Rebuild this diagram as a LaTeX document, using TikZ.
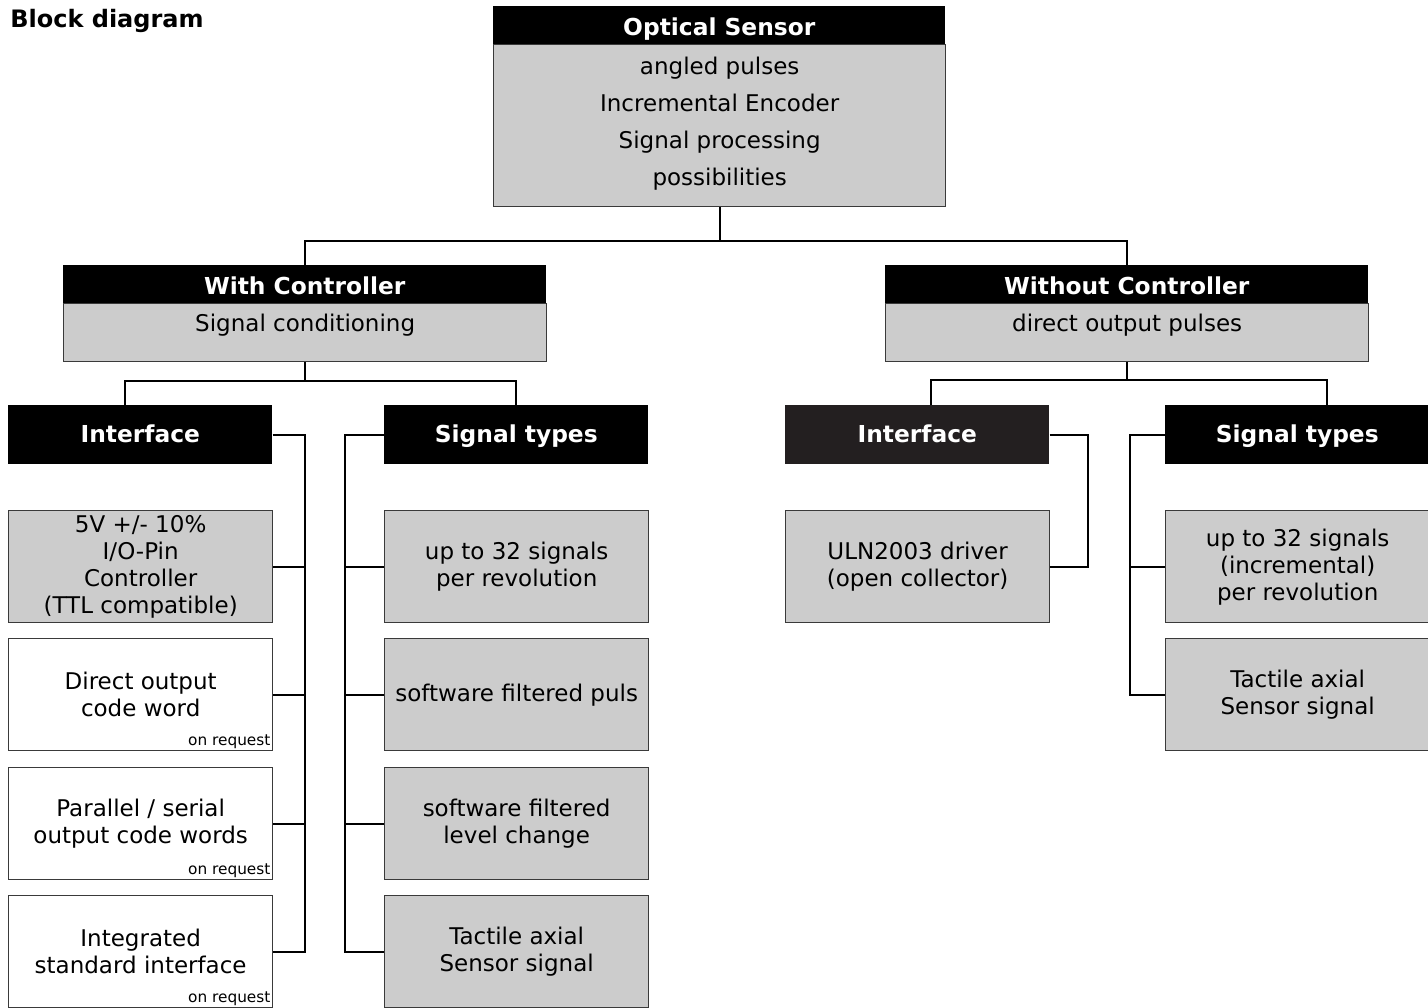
\documentclass[tikz,border=0pt]{standalone}
\usepackage{fontspec}
\setmainfont{DejaVu Sans}
\usetikzlibrary{positioning}

\definecolor{boxgray}{HTML}{CCCCCC}
\definecolor{rimgray}{HTML}{3A3A3A}
\definecolor{darkhead}{HTML}{231F20}

\newcommand{\headfont}{\fontsize{17.5}{21}\selectfont\bfseries}
\newcommand{\titlefont}{\fontsize{18}{21}\selectfont\bfseries}
\newcommand{\bodyfont}{\fontsize{17.25}{20.25}\selectfont}
\newcommand{\sensorfont}{\fontsize{17.25}{27.75}\selectfont}
\newcommand{\reqfont}{\fontsize{11.5}{13}\selectfont}

\begin{document}
\begin{tikzpicture}[x=0.75pt, y=-0.75pt,
    wire/.style={line width=1.5pt},
    headbox/.style={fill=black, text=white, font=\headfont, inner sep=0pt, anchor=north west},
    bighead/.style={headbox, minimum width=#1, text height=21.75pt, text depth=6.75pt},
    colhead/.style={headbox, minimum width=198pt, text height=27.75pt, text depth=16.5pt},
    bodybox/.style={draw=rimgray, line width=1pt, fill=boxgray, inner sep=0pt, anchor=north west, align=center},
    leafbox/.style={bodybox, font=\bodyfont, minimum width=198pt, minimum height=84pt},
    openbox/.style={leafbox, fill=white},
    onrequest/.style={label={[font=\reqfont, anchor=south east, inner sep=2pt]south east:on request}}]
    \useasboundingbox (0,0) rectangle (1428,1007);

    % Title
    \node[font=\titlefont, anchor=base west, inner sep=0pt] (title) at (10,27) {Block diagram};

    % Optical sensor
    \node[bodybox, font=\sensorfont, minimum width=339pt, minimum height=121.5pt] (sensorbody) at (493,44)
        {angled pulses\\Incremental Encoder\\Signal processing\\possibilities\\[-21.75pt]};
    \node[bighead=339pt] (sensorhead) at (493,6) {Optical Sensor};

    % With / without controller
    \node[bodybox, font=\bodyfont, minimum width=362.25pt, text height=21pt, text depth=22.5pt] (withbody) at (63,303) {Signal conditioning};
    \node[bighead=362.25pt] (withhead) at (63,265) {With Controller};
    \node[bodybox, font=\bodyfont, minimum width=362.25pt, text height=21pt, text depth=22.5pt] (withoutbody) at (885,303) {direct output pulses};
    \node[bighead=362.25pt] (withouthead) at (885,265) {Without Controller};

    % Column heads
    \node[colhead] (ifaceL) at (8,405) {Interface};
    \node[colhead] (sigL) at (384,405) {Signal types};
    \node[colhead, fill=darkhead] (ifaceR) at (785,405) {Interface};
    \node[colhead] (sigR) at (1165,405) {Signal types};

    % Interface options (with controller)
    \node[leafbox] (ileaf1) at (8,510) {5V +/- 10\%\\I/O-Pin\\Controller\\(TTL compatible)};
    \node[openbox, onrequest] (ileaf2) at (8,638) {Direct output\\code word};
    \node[openbox, onrequest] (ileaf3) at (8,767) {Parallel / serial\\output code words};
    \node[openbox, onrequest] (ileaf4) at (8,895) {Integrated\\standard interface};

    % Signal types (with controller)
    \node[leafbox] (sleaf1) at (384,510) {up to 32 signals\\per revolution};
    \node[leafbox] (sleaf2) at (384,638) {software filtered puls};
    \node[leafbox] (sleaf3) at (384,767) {software filtered\\level change};
    \node[leafbox] (sleaf4) at (384,895) {Tactile axial\\Sensor signal};

    % Without controller
    \node[leafbox] (uln) at (785,510) {ULN2003 driver\\(open collector)};
    \node[leafbox] (rleaf1) at (1165,510) {up to 32 signals\\(incremental)\\per revolution};
    \node[leafbox] (rleaf2) at (1165,638) {Tactile axial\\Sensor signal};

    % Sensor to controller variants
    \draw[wire] (sensorbody.south) -- ++(0,34) coordinate (topbus);
    \draw[wire] (withhead.north) |- (topbus) -| (withouthead.north);

    % Controller variants to columns
    \coordinate (ifaceLtop) at (125,405);
    \coordinate (ifaceRtop) at (931,405);
    \coordinate (sigRtop) at (1327,405);
    \draw[wire] (withbody.south) -- ++(0,19) coordinate (withbus);
    \draw[wire] (ifaceLtop) |- (withbus) -| (sigL.north);
    \draw[wire] (withoutbody.south) -- ++(0,18) coordinate (withoutbus);
    \draw[wire] (ifaceRtop) |- (withoutbus) -| (sigRtop);

    % Interface bus
    \draw[wire] (ifaceL.east) -- ++(32,0) |- (ileaf4.east);
    \draw[wire] (ileaf1.east) -- ++(32,0);
    \draw[wire] (ileaf2.east) -- ++(32,0);
    \draw[wire] (ileaf3.east) -- ++(32,0);

    % Signal bus
    \draw[wire] (sigL.west) -- ++(-39,0) |- (sleaf4.west);
    \draw[wire] (sleaf1.west) -- ++(-39,0);
    \draw[wire] (sleaf2.west) -- ++(-39,0);
    \draw[wire] (sleaf3.west) -- ++(-39,0);

    % Right side
    \draw[wire] (ifaceR.east) -- ++(38,0) |- (uln.east);
    \draw[wire] (sigR.west) -- ++(-35,0) |- (rleaf2.west);
    \draw[wire] (rleaf1.west) -- ++(-35,0);
\end{tikzpicture}
\end{document}
